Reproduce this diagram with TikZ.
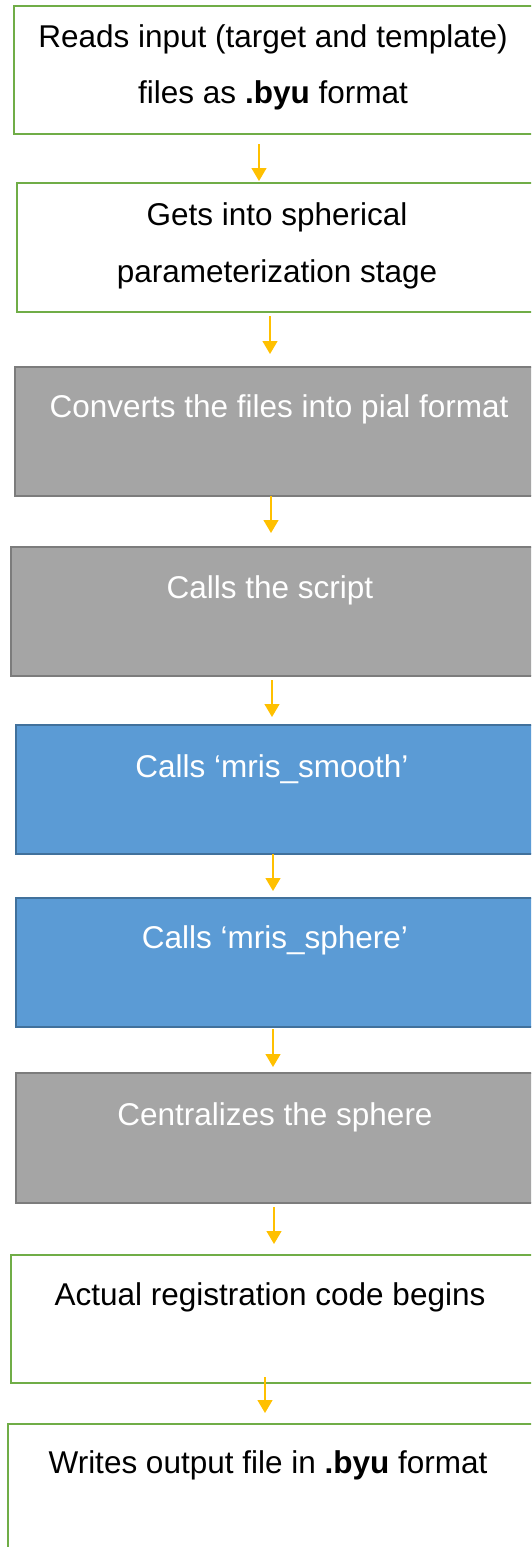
\documentclass[tikz,border=0pt]{standalone}
\usepackage{fontspec}
\setmainfont{Liberation Sans}
\usetikzlibrary{arrows.meta}

\definecolor{boxgreen}{HTML}{70AD47}
\definecolor{boxgray}{HTML}{A5A5A5}
\definecolor{graydraw}{HTML}{7C7C7C}
\definecolor{boxblue}{HTML}{5B9BD5}
\definecolor{bluedraw}{HTML}{41719C}
\definecolor{arrowgold}{HTML}{FFC000}

\tikzset{
  stagebox/.style={rectangle, anchor=north west, inner sep=0pt, outer sep=0pt,
    line width=2pt},
  plainbox/.style={stagebox, draw=boxgreen, fill=white},
  graybox/.style={stagebox, draw=graydraw, fill=boxgray},
  bluebox/.style={stagebox, draw=bluedraw, fill=boxblue},
  darktext/.style={inner sep=0pt, text=black, font=\fontsize{31.5}{31.5}\selectfont},
  lighttext/.style={inner sep=0pt, text=white, font=\fontsize{31.5}{31.5}\selectfont},
  flow/.style={draw=arrowgold, line width=1.3pt,
    -{Triangle[width=15pt,length=13pt]}},
}

\begin{document}
\begin{tikzpicture}[x=1pt,y=-1pt]
\useasboundingbox (0,0) rectangle (531,1547);
\clip (0,0) rectangle (531,1547);

% stage boxes (they run past the right edge of the page)
\node[plainbox, minimum width=531pt, minimum height=128pt] (b1) at (14,6) {};
\node[plainbox, minimum width=528pt, minimum height=129pt] (b2) at (17,183) {};
\node[graybox,  minimum width=530pt, minimum height=129pt] (b3) at (15,367) {};
\node[graybox,  minimum width=534pt, minimum height=129pt] (b4) at (11,547) {};
\node[bluebox,  minimum width=529pt, minimum height=129pt] (b5) at (16,725) {};
\node[bluebox,  minimum width=529pt, minimum height=129pt] (b6) at (16,898) {};
\node[graybox,  minimum width=529pt, minimum height=130pt] (b7) at (16,1073) {};
\node[plainbox, minimum width=534pt, minimum height=128pt] (b8) at (11,1255) {};
\node[plainbox, minimum width=537pt, minimum height=140pt] (b9) at (8,1424) {};

% stage labels
\node[darktext, align=center, font=\fontsize{31.5}{56}\selectfont] (t1) at (273,67)
  {Reads input (target and template)\\files as \textbf{.byu} format};
\node[darktext, align=center, font=\fontsize{31.5}{57}\selectfont] (t2) at (277,245.5)
  {Gets into spherical\\parameterization stage};
\node[lighttext, anchor=base] (t3) at (279,417) {Converts the files into pial format};
\node[lighttext, anchor=base] (t4) at (270,598) {Calls the script};
\node[lighttext, anchor=base] (t5) at (272,777) {Calls ‘mris\_smooth’};
\node[lighttext, anchor=base] (t6) at (275,948) {Calls ‘mris\_sphere’};
\node[lighttext, anchor=base] (t7) at (275,1125) {Centralizes the sphere};
\node[darktext, anchor=base] (t8) at (270,1305) {Actual registration code begins};
\node[darktext, anchor=base] (t9) at (268,1473) {Writes output file in \textbf{.byu} format};

% arrow ends between the stages
\coordinate (a1s) at (259,144);  \coordinate (a1e) at (259,181);
\coordinate (a2s) at (270,316);  \coordinate (a2e) at (270,354);
\coordinate (a3s) at (271,496);  \coordinate (a3e) at (271,533);
\coordinate (a4s) at (272,680);  \coordinate (a4e) at (272,717);
\coordinate (a5s) at (273,854);  \coordinate (a5e) at (273,891);
\coordinate (a6s) at (273,1029); \coordinate (a6e) at (273,1067);
\coordinate (a7s) at (274,1207); \coordinate (a7e) at (274,1244);
\coordinate (a8s) at (265,1377); \coordinate (a8e) at (265,1413);

\foreach \i in {1,...,8} {
  \draw[flow] (a\i s) -- (a\i e);
}
\end{tikzpicture}
\end{document}
